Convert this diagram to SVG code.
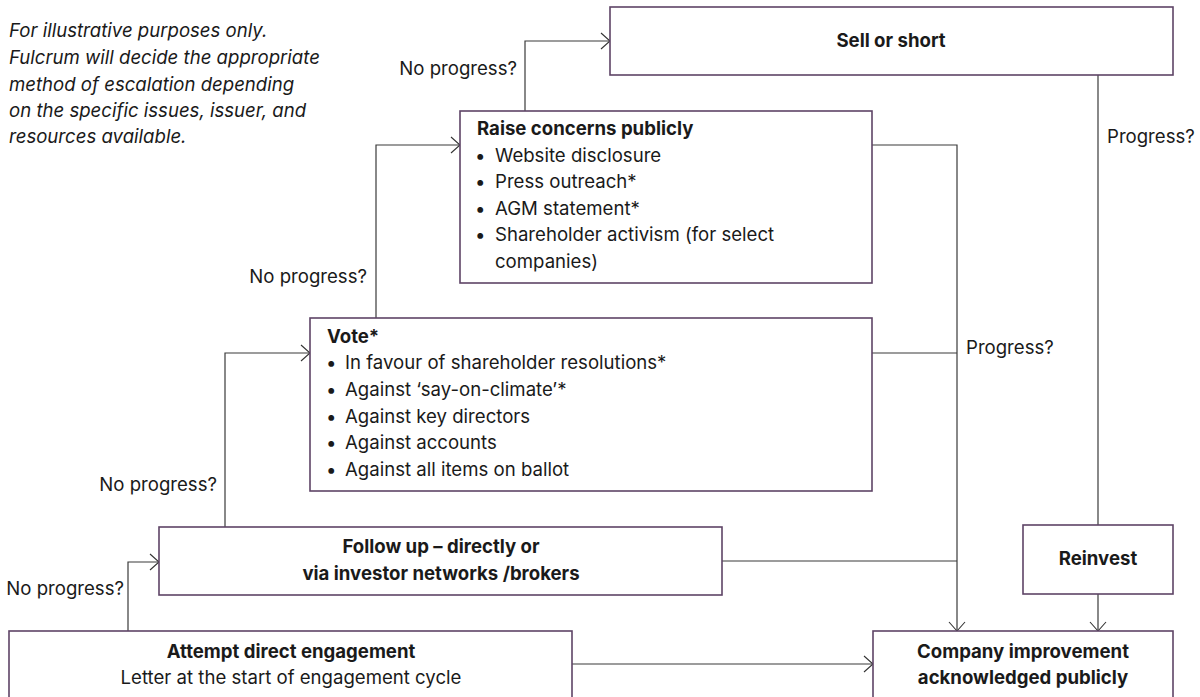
<svg xmlns="http://www.w3.org/2000/svg" width="1200" height="697" viewBox="0 0 1200 697">
  <defs>
    <marker id="arr" markerWidth="12" markerHeight="18" refX="10" refY="9" orient="auto" markerUnits="userSpaceOnUse">
      <path d="M1,1 L10,9 L1,17" fill="none" stroke="#333" stroke-width="1.1"/>
    </marker>
    <style>
      text { font-family: Inter, "Liberation Sans", Arial, sans-serif; font-size: 18.6px; fill: #1a1a1a; }
      .b { font-weight: 700; }
      .c { text-anchor: middle; }
      .e { text-anchor: end; }
      .i { font-style: italic; }
      .box { fill: #ffffff; stroke: #5e4466; stroke-width: 1.6; }
      .ln { fill: none; stroke: #3a3a3a; stroke-width: 1.2; }
      .ar { fill: none; stroke: #3a3a3a; stroke-width: 1.2; marker-end: url(#arr); }
    </style>
  </defs>
  <rect width="1200" height="697" fill="#ffffff"/>

  <g id="note">
    <text class="i" x="9" y="37">For illustrative purposes only.</text>
    <text class="i" x="9" y="64">Fulcrum will decide the appropriate</text>
    <text class="i" x="9" y="91">method of escalation depending</text>
    <text class="i" x="9" y="117">on the specific issues, issuer, and</text>
    <text class="i" x="9" y="143">resources available.</text>
  </g>

  <g id="connectors">
    <path class="ar" d="M128,631 V562 H159"/>
    <path class="ar" d="M225,527 V353 H310"/>
    <path class="ar" d="M376,318 V145 H460"/>
    <path class="ar" d="M525,111 V41 H610"/>
    <path class="ar" d="M872,145 H957 V631"/>
    <path class="ln" d="M872,353 H957"/>
    <path class="ln" d="M722,561 H957"/>
    <path class="ar" d="M572,664 H873"/>
    <path class="ln" d="M1098,75 V525"/>
    <path class="ar" d="M1098,594 V631"/>
    <text class="e" x="517" y="75">No progress?</text>
    <text class="e" x="367" y="283">No progress?</text>
    <text class="e" x="217" y="491">No progress?</text>
    <text class="e" x="124" y="595">No progress?</text>
    <text x="1107" y="143">Progress?</text>
    <text x="966" y="354">Progress?</text>
  </g>

  <g id="sell">
    <rect class="box" x="610" y="7" width="563" height="68"/>
    <text class="b c" x="891" y="47">Sell or short</text>
  </g>

  <g id="raise">
    <rect class="box" x="460" y="111" width="412" height="172"/>
    <text class="b" x="477" y="135">Raise concerns publicly</text>
    <text x="475" y="162">•<tspan x="495">Website disclosure</tspan></text>
    <text x="475" y="188">•<tspan x="495">Press outreach*</tspan></text>
    <text x="475" y="215">•<tspan x="495">AGM statement*</tspan></text>
    <text x="475" y="241">•<tspan x="495">Shareholder activism (for select</tspan></text>
    <text x="495" y="268">companies)</text>
  </g>

  <g id="vote">
    <rect class="box" x="310" y="318" width="562" height="173"/>
    <text class="b" x="327" y="343">Vote*</text>
    <text x="326" y="369">•<tspan x="345">In favour of shareholder resolutions*</tspan></text>
    <text x="326" y="396">•<tspan x="345">Against ‘say-on-climate’*</tspan></text>
    <text x="326" y="423">•<tspan x="345">Against key directors</tspan></text>
    <text x="326" y="449">•<tspan x="345">Against accounts</tspan></text>
    <text x="326" y="476">•<tspan x="345">Against all items on ballot</tspan></text>
  </g>

  <g id="followup">
    <rect class="box" x="159" y="527" width="563" height="68"/>
    <text class="b c" x="441" y="553">Follow up – directly or</text>
    <text class="b c" x="441" y="580">via investor networks /brokers</text>
  </g>

  <g id="attempt">
    <rect class="box" x="9" y="631" width="563" height="90"/>
    <text class="b c" x="291" y="658">Attempt direct engagement</text>
    <text class="c" x="291" y="684">Letter at the start of engagement cycle</text>
  </g>

  <g id="reinvest">
    <rect class="box" x="1023" y="525" width="150" height="69"/>
    <text class="b c" x="1098" y="565">Reinvest</text>
  </g>

  <g id="company">
    <rect class="box" x="873" y="631" width="300" height="90"/>
    <text class="b c" x="1023" y="658">Company improvement</text>
    <text class="b c" x="1023" y="684">acknowledged publicly</text>
  </g>
</svg>
